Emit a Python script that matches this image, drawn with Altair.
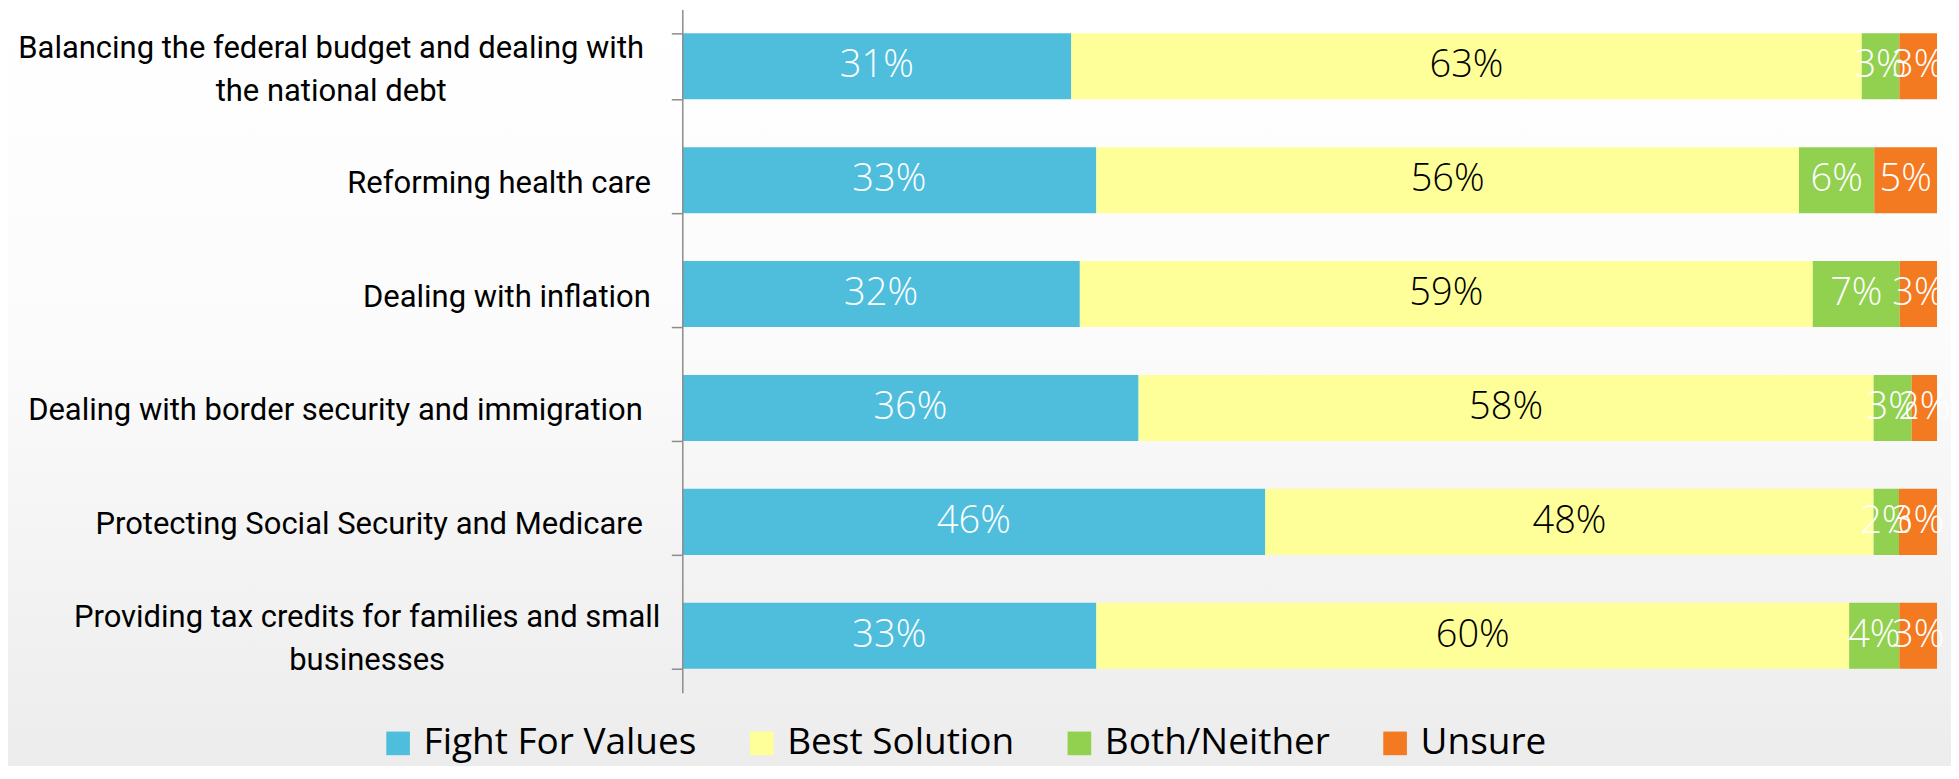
import altair as alt
import pandas as pd

categories = [
    "Balancing the federal budget and dealing with the national debt",
    "Reforming health care",
    "Dealing with inflation",
    "Dealing with border security and immigration",
    "Protecting Social Security and Medicare",
    "Providing tax credits for families and small businesses",
]
label_lines = {
    categories[0]: ["Balancing the federal budget and dealing with", "the national debt"],
    categories[5]: ["Providing tax credits for families and small", "businesses"],
}
series = ["Fight For Values", "Best Solution", "Both/Neither", "Unsure"]
colors = ["#4FBEDD", "#FFFF99", "#92D050", "#F47A22"]

fight = [31, 33, 32, 36, 46, 33]
best = [63, 56, 59, 58, 48, 60]
both = [3, 6, 7, 3, 2, 4]
unsure = [3, 5, 3, 2, 3, 3]

rows = []
for i, c in enumerate(categories):
    for j, (s, vals) in enumerate(zip(series, [fight, best, both, unsure])):
        rows.append({"category": c, "series": s, "value": vals[i], "order": j})
df = pd.DataFrame(rows)

expr = "datum.label"
for k, v in label_lines.items():
    expr = f"datum.label == '{k}' ? ['{v[0]}', '{v[1]}'] : ({expr})"
multi_test = " || ".join(f"datum.value == '{k}'" for k in label_lines)


def is_cat(i):
    return f"datum.value == '{categories[i]}'"


W, H = 1256, 684
LINE_H = 43

base = (
    alt.Chart(df)
    .transform_joinaggregate(total="sum(value)", groupby=["category"])
    .transform_calculate(pct="datum.value / datum.total")
    .transform_stack(stack="pct", as_=["x0", "x1"], groupby=["category"],
                     sort=[alt.SortField("order", order="ascending")])
    .transform_calculate(mid="(datum.x0 + datum.x1) / 2", label="datum.value + '%'")
)

yenc = alt.Y(
    "category:N",
    sort=categories,
    scale=alt.Scale(paddingInner=0.42, paddingOuter=0.21),
    axis=alt.Axis(
        title=None,
        labelExpr=expr,
        labelFont="Roboto",
        labelFontSize=31,
        labelColor="black",
        labelAlign={"condition": {"test": multi_test, "value": "center"}, "value": "right"},
        labelBaseline="middle",
        labelLineHeight=LINE_H,
        labelOffset={"condition": {"test": multi_test, "value": -18}, "value": 3},
        labelPadding={
            "condition": [
                {"test": is_cat(0), "value": 341},
                {"test": is_cat(5), "value": 305},
                {"test": is_cat(3) + " || " + is_cat(4), "value": 29},
            ],
            "value": 21,
        },
        labelLimit=800,
        tickBand="extent",
        tickSize=11,
        tickWidth=1.5,
        tickColor="#8c8c8c",
        domainColor="#8c8c8c",
        domainWidth=1.5,
        grid=False,
        zindex=2,
    ),
)
xscale = alt.Scale(domain=[0, 1], nice=False, zero=True)

bg = alt.Chart(alt.Data(values=[{"a": 1}])).mark_rect(
    fill=alt.Gradient(
        gradient="linear",
        stops=[
            alt.GradientStop(color="#ffffff", offset=0),
            alt.GradientStop(color="#fbfbfb", offset=0.45),
            alt.GradientStop(color="#ececec", offset=1),
        ],
        x1=0, x2=0, y1=0, y2=1,
    )
).encode(x=alt.value(-683), x2=alt.value(W + 20), y=alt.value(-9), y2=alt.value(H + 80))

bars = base.mark_bar().encode(
    y=yenc,
    x=alt.X("x0:Q", scale=xscale, axis=None),
    x2="x1:Q",
    color=alt.Color(
        "series:N",
        scale=alt.Scale(domain=series, range=colors),
        legend=alt.Legend(
            title=None,
            orient="none",
            legendX=-303,
            legendY=H + 32,
            direction="horizontal",
            symbolType="square",
            symbolSize=560,
            symbolStrokeWidth=0,
            symbolOpacity=1,
            labelFont="Open Sans",
            labelFontSize=37,
            labelColor="black",
            labelOffset=7,
            labelLimit=500,
            columnPadding=46,
            zindex=2,
        ),
    ),
)

texts = base.mark_text(font="Open Sans", fontSize=38, fontWeight=300).encode(
    y=alt.Y("category:N", sort=categories),
    x=alt.X("mid:Q", scale=xscale),
    text="label:N",
    color=alt.condition(alt.datum.series == "Best Solution", alt.value("black"), alt.value("white")),
)

chart = (
    alt.layer(bg, bars, texts)
    .properties(
        width=W,
        height=H,
        autosize=alt.AutoSizeParams(type="none"),
        padding={"left": 675, "top": 1, "right": 14, "bottom": 73},
    )
    .configure_view(stroke=None)
)

chart.save("out.html", embed_options={"renderer": "svg", "actions": False})
